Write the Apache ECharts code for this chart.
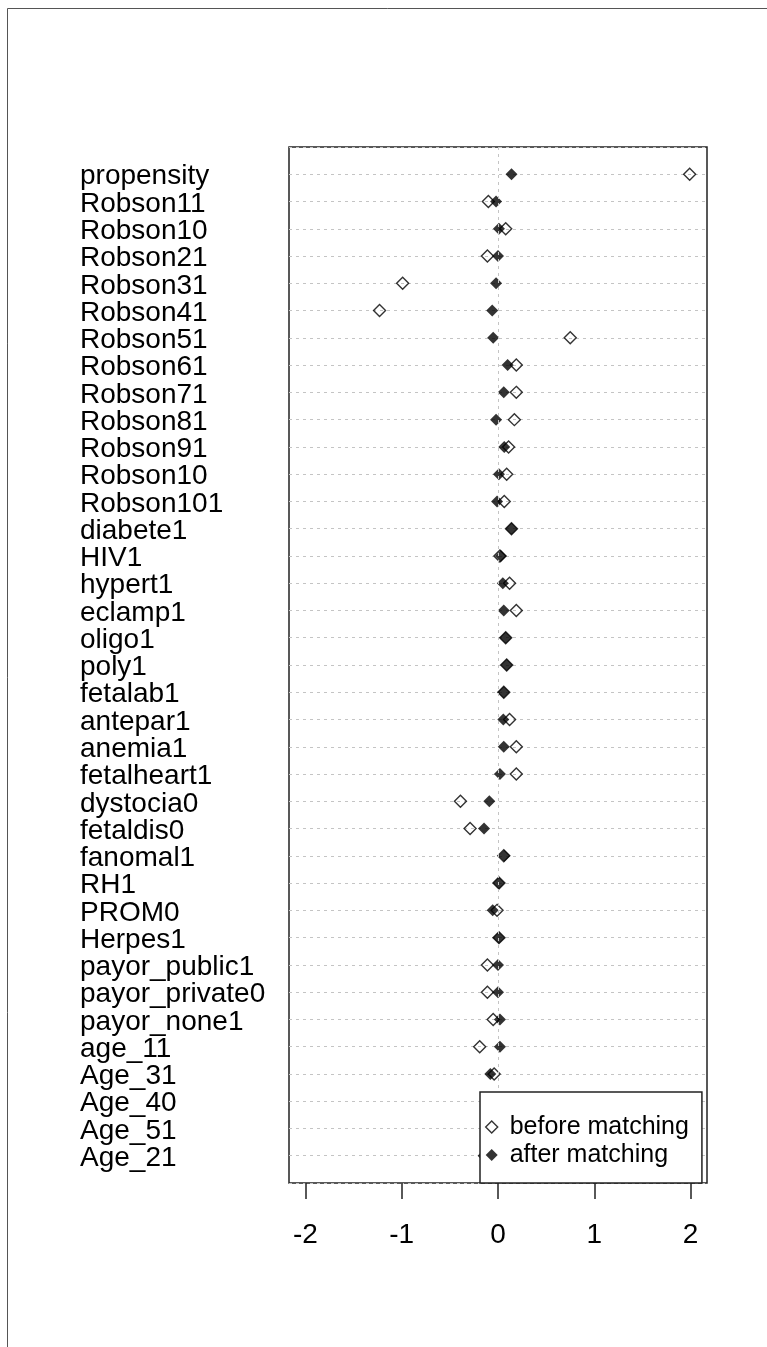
<!DOCTYPE html>
<html>
<head>
<meta charset="utf-8">
<script src="https://cdn.jsdelivr.net/npm/echarts@6/dist/echarts.min.js"></script>
<style>
  html, body { margin: 0; padding: 0; background: #fff; }
  #chart { width: 767px; height: 1347px; }
</style>
</head>
<body>
<div id="chart"></div>
<script>
// Covariates, listed top to bottom
const covariates = [
  'propensity', 'Robson11', 'Robson10', 'Robson21', 'Robson31', 'Robson41',
  'Robson51', 'Robson61', 'Robson71', 'Robson81', 'Robson91', 'Robson10',
  'Robson101', 'diabete1', 'HIV1', 'hypert1', 'eclamp1', 'oligo1', 'poly1',
  'fetalab1', 'antepar1', 'anemia1', 'fetalheart1', 'dystocia0', 'fetaldis0',
  'fanomal1', 'RH1', 'PROM0', 'Herpes1', 'payor_public1', 'payor_private0',
  'payor_none1', 'age_11', 'Age_31', 'Age_40', 'Age_51', 'Age_21'
];

// Standardized mean differences before matching
const beforeMatching = [
  1.99, -0.10, 0.08, -0.11, -0.99, -1.23,
  0.75, 0.19, 0.19, 0.17, 0.11, 0.09,
  0.065, 0.14, 0.02, 0.12, 0.19, 0.08, 0.09,
  0.06, 0.12, 0.19, 0.19, -0.39, -0.29,
  0.06, 0.01, -0.01, 0.01, -0.11, -0.11,
  -0.05, -0.19, -0.04, null, null, null
];

// Standardized mean differences after matching
const afterMatching = [
  0.14, -0.02, 0.01, 0.00, -0.02, -0.06,
  -0.05, 0.10, 0.06, -0.02, 0.065, 0.01,
  -0.01, 0.14, 0.03, 0.05, 0.06, 0.08, 0.09,
  0.06, 0.055, 0.06, 0.02, -0.09, -0.145,
  0.065, 0.01, -0.055, 0.01, 0.00, 0.00,
  0.02, 0.02, -0.08, null, null, -0.15
];

const xTicks = [-2, -1, 0, 1, 2];
const seriesNames = ['before matching', 'after matching'];

const FONT = 'Liberation Sans, Arial, sans-serif';

function toPoints(values) {
  const pts = [];
  values.forEach((v, i) => { if (v !== null) pts.push([v, i + 1]); });
  return pts;
}

const chart = echarts.init(document.getElementById('chart'), null, { renderer: 'canvas' });

chart.setOption({
  animation: false,
  backgroundColor: '#fff',
  graphic: [{
    type: 'polyline',
    shape: { points: [[7.5, 1347], [7.5, 8.5], [767, 8.5]] },
    style: { stroke: '#555', lineWidth: 1, fill: null },
    silent: true
  }],
  grid: {
    left: 289, right: 60, top: 147, bottom: 164,
    show: true, borderColor: '#222', borderWidth: 1.5,
    backgroundColor: 'transparent'
  },
  xAxis: {
    type: 'value',
    position: 'bottom',
    min: -2.17, max: 2.17,
    axisLine: { show: false, onZero: false },
    splitLine: { show: false },
    axisTick: {
      show: true, length: 16, customValues: xTicks,
      lineStyle: { color: '#222', width: 1.5 }
    },
    axisLabel: {
      customValues: xTicks, margin: 38,
      fontSize: 28, color: '#000', fontFamily: FONT
    }
  },
  yAxis: {
    type: 'value',
    inverse: true,
    min: 0, max: covariates.length + 1, interval: 1,
    axisLine: { show: false },
    axisTick: { show: false },
    splitLine: { show: true, lineStyle: { color: '#c4c4c4', width: 1, type: [3, 4] } },
    axisLabel: {
      align: 'left', margin: 209,
      color: '#000',
      formatter: v => covariates[v - 1] ? '{n|' + covariates[v - 1] + '}' : '',
      rich: {
        n: { fontSize: 28, color: '#000', fontFamily: FONT, padding: [5, 0, 0, 0] }
      }
    }
  },
  legend: {
    orient: 'vertical',
    left: 480, top: 1092,
    z: 10,
    padding: [21, 13, 14, 5],
    itemGap: 0,
    itemWidth: 12, itemHeight: 12,
    backgroundColor: '#fff',
    borderColor: '#222', borderWidth: 1.5, borderRadius: 0,
    // non-breaking space widens the gap between icon and text
    formatter: name => '\u00a0' + name,
    textStyle: {
      fontSize: 25, lineHeight: 28,
      color: '#000', fontFamily: FONT
    },
    data: [
      { name: seriesNames[0], icon: 'diamond',
        itemStyle: { color: 'rgba(0,0,0,0)', borderColor: '#000', borderWidth: 1.4 } },
      { name: seriesNames[1], icon: 'diamond',
        itemStyle: { color: '#000', borderWidth: 0 } }
    ]
  },
  series: [
    {
      name: seriesNames[0],
      type: 'scatter',
      symbol: 'diamond',
      symbolSize: 12,
      itemStyle: { color: 'rgba(0,0,0,0)', borderColor: '#000', borderWidth: 1.4 },
      data: toPoints(beforeMatching),
      markLine: {
        silent: true,
        symbol: 'none',
        label: { show: false },
        lineStyle: { color: '#c4c4c4', width: 1, type: [3, 4] },
        data: [{ xAxis: 0 }]
      }
    },
    {
      name: seriesNames[1],
      type: 'scatter',
      symbol: 'diamond',
      symbolSize: 12,
      itemStyle: { color: '#000' },
      data: toPoints(afterMatching)
    }
  ]
});
</script>
</body>
</html>
